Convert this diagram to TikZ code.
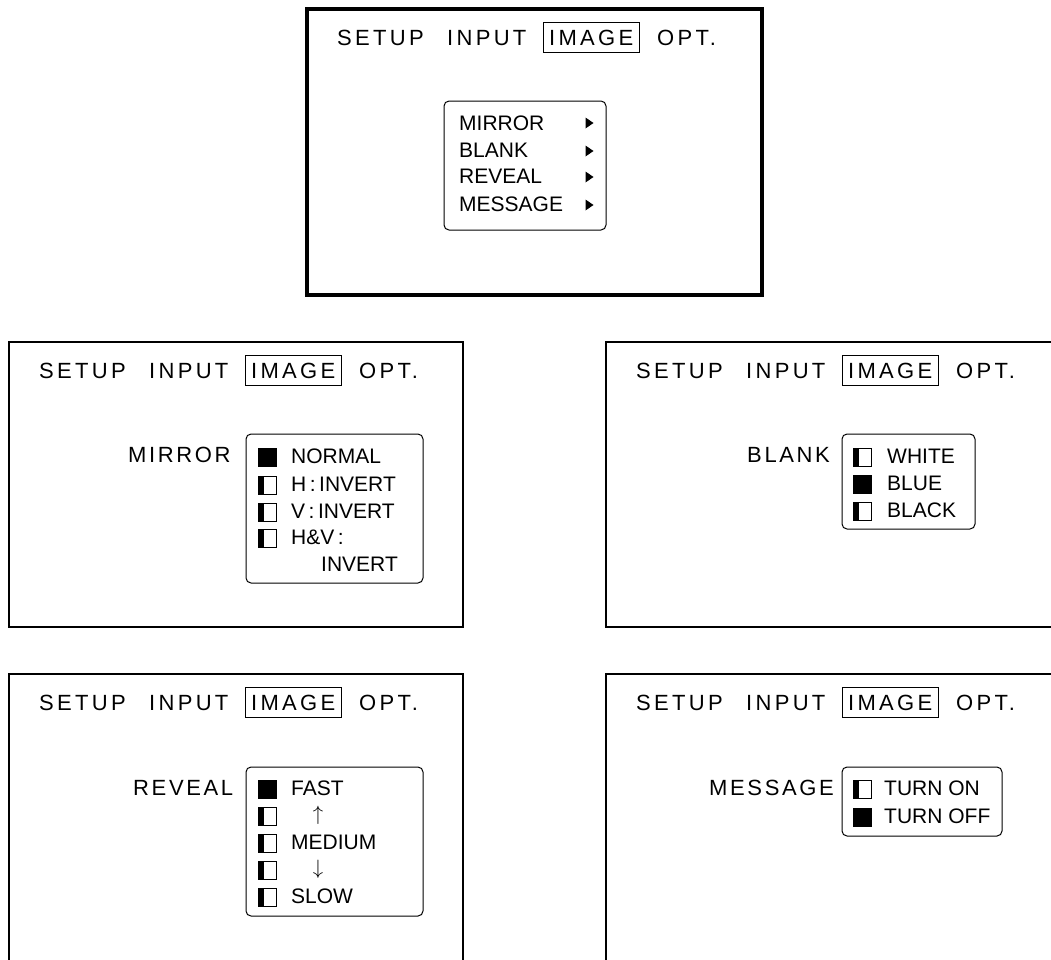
\documentclass[tikz,border=0pt]{standalone}
\usepackage{fontspec}
\setmainfont{Liberation Sans}
\newfontfamily\trackfont[LetterSpace=15]{Liberation Sans}
\newfontfamily\labelfont[LetterSpace=12]{Liberation Sans}
\tikzset{
  title/.style={inner sep=0pt,anchor=base west,font=\trackfont\fontsize{22}{26}\selectfont},
  sidelabel/.style={inner sep=0pt,anchor=base west,font=\labelfont\fontsize{22}{26}\selectfont},
  item/.style={inner sep=0pt,anchor=base west,font=\fontsize{21}{25}\selectfont},
  frame/.style={draw,line width=1.3pt},
  thickframe/.style={draw,line width=4pt},
  optbox/.style={draw,line width=1pt,rounded corners=5pt},
  selbox/.style={draw,line width=0.9pt},
  arrowglyph/.style={inner sep=0pt,anchor=center,font=\fontsize{22}{26}\selectfont},
}
% heading of one panel: #1,#2 = top-left corner, #3 = name prefix
\newcommand\panelhead[3]{%
  \node[title] (#3setup) at ({#1+30},{#2+36}) {SETUP};
  \node[title] (#3input) at ({#1+140},{#2+36}) {INPUT};
  \node[title] (#3image) at ({#1+242},{#2+36}) {IMAGE};
  \node[title] (#3opt)   at ({#1+350},{#2+36}) {OPT.};
  \draw[selbox] ({#1+236},{#2+13}) rectangle ({#1+332},{#2+43});
}
% marker square: #1 = x, #2 = baseline y, #3 = fill width
\newcommand\marker[3]{%
  \fill ({#1},{#2-15}) rectangle ({#1+#3},{#2+3});
  \draw[line width=0.9pt] ({#1},{#2-15}) rectangle ({#1+18},{#2+3});
}
\begin{document}
\begin{tikzpicture}[x=1pt,y=-1pt]
\useasboundingbox (0,0) rectangle (1051,959);
\clip (0,0) rectangle (1051,959);

% ---------- top panel ----------
\draw[thickframe] (307,9) rectangle (762,295);
\panelhead{307}{9}{t}
\draw[optbox] (444,101) rectangle (606,230);
\node[item] (tmirror)  at (459,130) {MIRROR};
\node[item] (tblank)   at (459,157) {BLANK};
\node[item] (treveal)  at (459,183) {REVEAL};
\node[item] (tmessage) at (459,211) {MESSAGE};
\foreach \yy in {123,151,177,205}{
  \fill (585.5,{\yy-5.5}) -- (593.5,\yy) -- (585.5,{\yy+5.5}) -- cycle;
}

% ---------- MIRROR panel ----------
\draw[frame] (9,342) rectangle (463,627);
\panelhead{9}{342}{m}
\node[sidelabel] (mlabel) at (128,462) {MIRROR};
\draw[optbox] (246,434) rectangle (423,583);
\marker{258}{463}{18}
\marker{258}{491}{6}
\marker{258}{518}{6}
\marker{258}{544}{6}
\node[item] (mnormal) at (291,463) {NORMAL};
\node[item] (mh)      at (291,491) {H\,:\,INVERT};
\node[item] (mv)      at (291,518) {V\,:\,INVERT};
\node[item] (mhv)     at (291,544) {H\&V\,:};
\node[item] (mhv2)    at (321,571) {INVERT};

% ---------- BLANK panel ----------
\draw[frame] (606,342) rectangle (1062,627);
\panelhead{606}{342}{b}
\node[sidelabel] (blabel) at (747,462) {BLANK};
\draw[optbox] (842,434) rectangle (975,529);
\marker{853}{463}{6}
\marker{853}{490}{18}
\marker{853}{517}{6}
\node[item] (bwhite) at (887,463) {WHITE};
\node[item] (bblue)  at (887,490) {BLUE};
\node[item] (bblack) at (887,517) {BLACK};

% ---------- REVEAL panel ----------
\draw[frame] (9,674) rectangle (463,962);
\panelhead{9}{674}{r}
\node[sidelabel] (rlabel) at (133,795) {REVEAL};
\draw[optbox] (246,767) rectangle (423,916);
\marker{258}{795}{18}
\marker{258}{822}{6}
\marker{258}{849}{6}
\marker{258}{876}{6}
\marker{258}{903}{6}
\node[item] (rfast)   at (291,795) {FAST};
\node[arrowglyph] (rup)   at (318,815) {$\uparrow$};
\node[item] (rmedium) at (291,849) {MEDIUM};
\node[arrowglyph] (rdown) at (318,869) {$\downarrow$};
\node[item] (rslow)   at (291,903) {SLOW};

% ---------- MESSAGE panel ----------
\draw[frame] (606,674) rectangle (1062,962);
\panelhead{606}{674}{s}
\node[sidelabel] (slabel) at (709,795) {MESSAGE};
\draw[optbox] (842,767) rectangle (1002,836);
\marker{853}{795}{6}
\marker{853}{823}{18}
\node[item] (son)  at (884,795) {TURN ON};
\node[item] (soff) at (884,823) {TURN OFF};
\end{tikzpicture}
\end{document}
